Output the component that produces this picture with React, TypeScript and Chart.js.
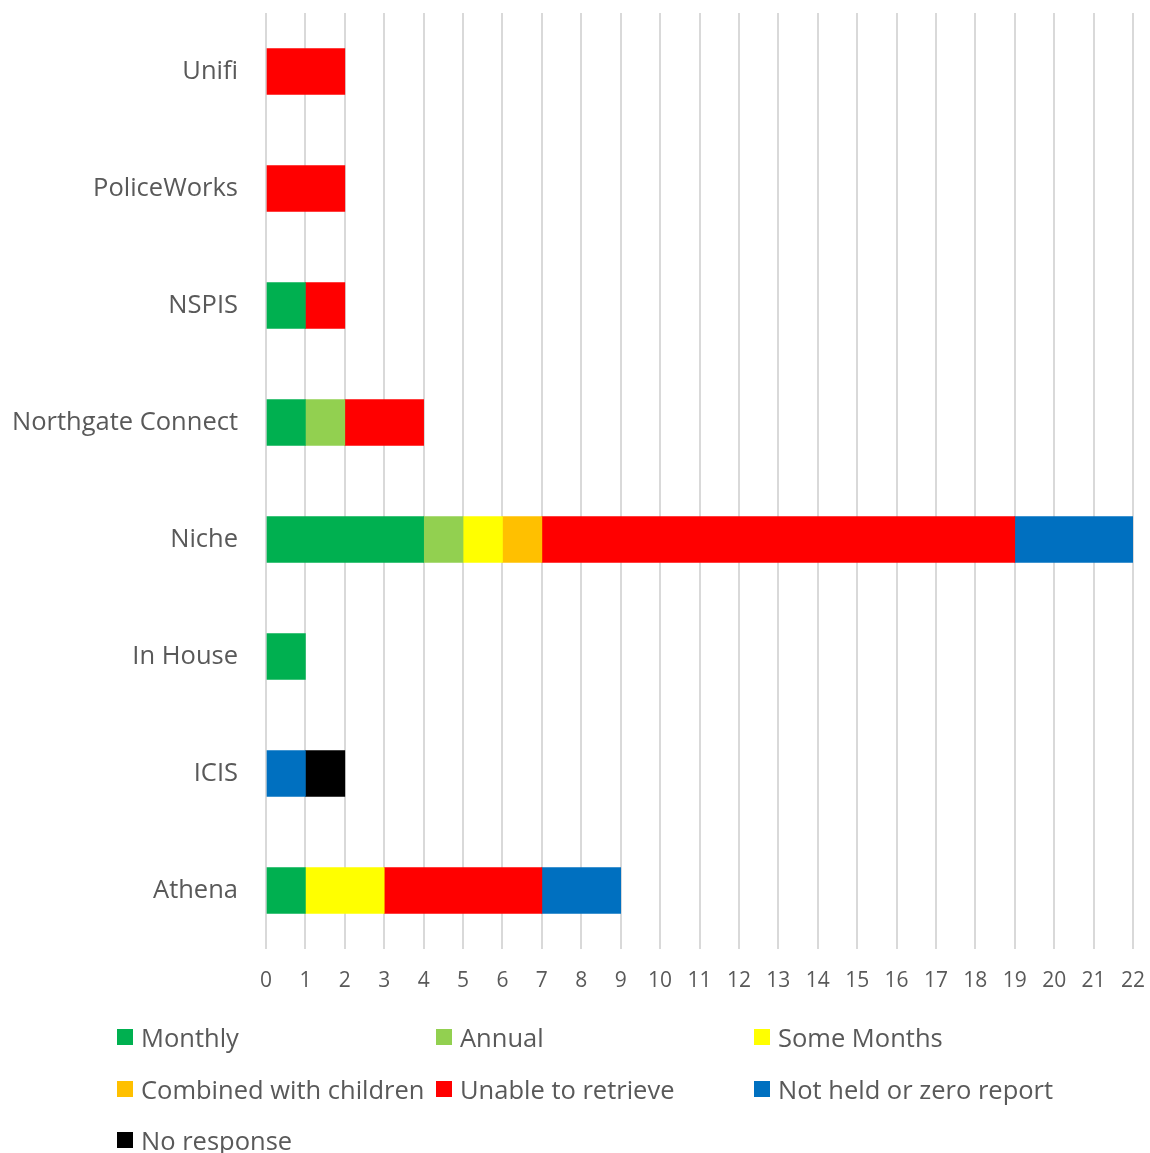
import React, { useEffect, useRef } from "react";
import { Chart, registerables } from "chart.js";

Chart.register(...registerables);

const categories = ["Unifi", "PoliceWorks", "NSPIS", "Northgate Connect", "Niche", "In House", "ICIS", "Athena"];
const monthly = [0, 0, 1, 1, 4, 1, 0, 1];
const annual = [0, 0, 0, 1, 1, 0, 0, 0];
const someMonths = [0, 0, 0, 0, 1, 0, 0, 2];
const combinedWithChildren = [0, 0, 0, 0, 1, 0, 0, 0];
const unableToRetrieve = [2, 2, 1, 2, 12, 0, 0, 4];
const notHeldOrZero = [0, 0, 0, 0, 3, 0, 1, 2];
const noResponse = [0, 0, 0, 0, 0, 0, 1, 0];

const seriesNames = ["Monthly", "Annual", "Some Months", "Combined with children", "Unable to retrieve", "Not held or zero report", "No response"];
const seriesValues = [monthly, annual, someMonths, combinedWithChildren, unableToRetrieve, notHeldOrZero, noResponse];
const seriesColors = ["#00B050", "#92D050", "#FFFF00", "#FFC000", "#FF0000", "#0070C0", "#000000"];

const xMax = 22;
const FONT = "'Open Sans', sans-serif";
const TEXT = "#595959";

const zeroPad = (s: any) => {
  s.paddingTop = 0;
  s.paddingBottom = 0;
  s.paddingLeft = 0;
  s.paddingRight = 0;
};

export default function App() {
  const ref = useRef<HTMLCanvasElement | null>(null);

  useEffect(() => {
    if (!ref.current) return;
    const chart = new Chart(ref.current, {
      type: "bar",
      data: {
        labels: categories,
        datasets: seriesNames.map((name, i) => ({
          label: name,
          data: seriesValues[i].map((v) => (v === 0 ? null : v)),
          backgroundColor: seriesColors[i],
          borderWidth: 0,
          barThickness: 46,
        })),
      },
      options: {
        indexAxis: "y",
        responsive: false,
        animation: false,
        layout: { padding: { left: 0, top: 13, right: 17, bottom: 144 } },
        plugins: { legend: { display: false }, tooltip: { enabled: false } },
        scales: {
          x: {
            stacked: true,
            min: 0,
            max: xMax,
            border: { display: false },
            grid: { color: "#D9D9D9", lineWidth: 2, drawTicks: false },
            ticks: {
              stepSize: 1,
              padding: 19,
              color: TEXT,
              font: { family: FONT, size: 21 },
            },
            afterFit: (s: any) => {
              s.height = 60;
              zeroPad(s);
            },
          },
          y: {
            stacked: true,
            border: { display: false },
            grid: { display: false, drawTicks: false },
            ticks: {
              padding: 28,
              color: TEXT,
              font: { family: FONT, size: 25.5 },
            },
            afterFit: (s: any) => {
              s.width = 266;
              zeroPad(s);
            },
          },
        },
      },
    });
    return () => chart.destroy();
  }, []);

  const colX = [117, 436, 754];
  const rowY = [1037, 1089, 1140];

  return (
    <div style={{ position: "absolute", left: 0, top: 0, width: 1150, height: 1153, overflow: "hidden", background: "#fff" }}>
      <canvas ref={ref} width={1150} height={1153} style={{ position: "absolute", left: 0, top: 0 }} />
      {seriesNames.map((name, k) => {
        const col = k % 3;
        const row = Math.floor(k / 3);
        return (
          <div
            key={name}
            style={{
              position: "absolute",
              left: colX[col],
              top: rowY[row] - 18,
              height: 36,
              display: "flex",
              alignItems: "center",
              fontFamily: FONT,
              fontSize: 25.5,
              color: TEXT,
              whiteSpace: "nowrap",
            }}
          >
            <span style={{ display: "inline-block", width: 16, height: 16, background: seriesColors[k], marginRight: 8 }} />
            <span>{name}</span>
          </div>
        );
      })}
    </div>
  );
}
